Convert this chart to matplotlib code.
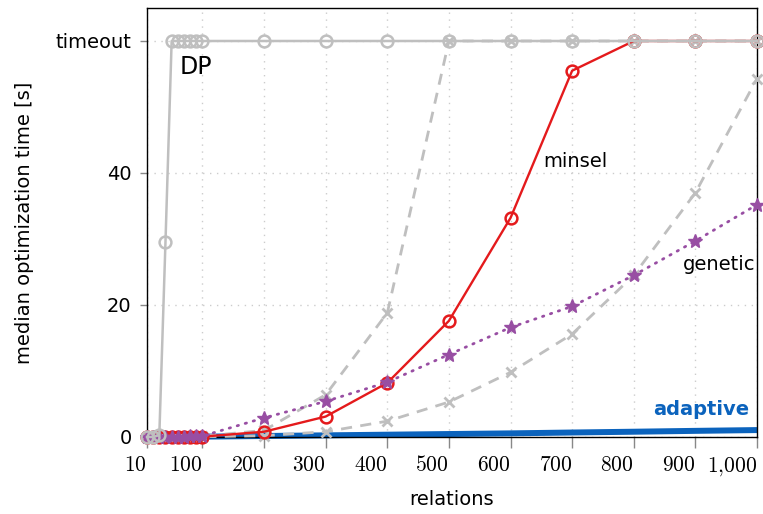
import matplotlib
matplotlib.use("Agg")
import matplotlib.pyplot as plt

plt.rcParams['font.family'] = ['DejaVu Sans']
plt.rcParams['mathtext.fontset'] = 'cm'

# data
relations = [10, 20, 30, 40, 50, 60, 70, 80, 90, 100,
             200, 300, 400, 500, 600, 700, 800, 900, 1000]
TIMEOUT = 60
dp = [0.0, 0.0, 0.3, 29.6, 60, 60, 60, 60, 60, 60,
      60, 60, 60, 60, 60, 60, 60, 60, 60]
minsel = [0.0, 0.0, 0.0, 0.0, 0.0, 0.0, 0.01, 0.02, 0.03, 0.05,
          0.8, 3.1, 8.2, 17.6, 33.2, 55.5, 60, 60, 60]
genetic = [0.0, 0.0, 0.01, 0.02, 0.03, 0.05, 0.07, 0.1, 0.12, 0.15,
           2.9, 5.4, 8.3, 12.5, 16.6, 19.8, 24.5, 29.7, 35.2]
gray_fast = [0.0, 0.0, 0.0, 0.01, 0.02, 0.03, 0.05, 0.07, 0.1, 0.12,
             1.0, 6.4, 18.8, 60, 60, 60, 60, 60, 60]
gray_slow = [0.0, 0.0, 0.0, 0.0, 0.0, 0.01, 0.01, 0.02, 0.03, 0.04,
             0.2, 0.8, 2.4, 5.3, 9.8, 15.6, 24.5, 37.0, 54.3]
adaptive = [0.0, 0.0, 0.01, 0.01, 0.02, 0.02, 0.03, 0.03, 0.04, 0.05,
            0.15, 0.25, 0.35, 0.45, 0.55, 0.68, 0.8, 0.93, 1.05]

xticks = [10, 100, 200, 300, 400, 500, 600, 700, 800, 900, 1000]
xticklabels = [r'$10$', r'$100$', r'$200$', r'$300$', r'$400$', r'$500$',
               r'$600$', r'$700$', r'$800$', r'$900$', r'$1{,}000$']
yticks = [0, 20, 40, TIMEOUT]
yticklabels = ['0', '20', '40', 'timeout']

gray = '#bfbfbf'
red = '#e41a1c'
purple = '#984ea3'
blue = '#0b63bd'

fig = plt.figure(figsize=(7.63, 5.14), dpi=100)
ax = fig.add_axes([147/763, 1-437/514, (757-147)/763, (437-8)/514])

ax.plot(relations, adaptive, color=blue, lw=4.3, solid_capstyle='butt',
        zorder=2, clip_on=False)
ax.plot(relations, gray_slow, color=gray, lw=2, ls=(0, (4, 3)), marker='x',
        ms=7, mew=2, zorder=3, clip_on=False)
ax.plot(relations, gray_fast, color=gray, lw=2, ls=(0, (4, 3)), marker='x',
        ms=7, mew=2, zorder=3, clip_on=False)
ax.plot(relations, minsel, color=red, lw=1.7, marker='o', ms=8.5, mfc='none',
        mew=1.8, zorder=4, clip_on=False)
ax.plot(relations, genetic, color=purple, lw=2, ls=(0, (0.5, 2.5)),
        dash_capstyle='round', marker='*', ms=10, zorder=5, clip_on=False)
ax.plot(relations, dp, color=gray, lw=1.8, marker='o', ms=8.5, mfc='none',
        mew=1.8, zorder=6, clip_on=False)

ax.text(63, 56.0, 'DP', fontsize=17, ha='left', va='center')
ax.text(706, 41.8, 'minsel', fontsize=14, ha='center', va='center')
ax.text(997, 26.1, 'genetic', fontsize=14, ha='right', va='center')
ax.text(987, 4.1, 'adaptive', fontsize=14, ha='right', va='center',
        color=blue, fontweight='bold')

ax.set_xlim(10, 1000)
ax.set_ylim(0, 65)
ax.set_xticks(xticks)
ax.set_xticklabels(xticklabels, fontsize=15.5, ha='right')
ax.set_yticks(yticks)
ax.set_yticklabels(yticklabels, fontsize=14)
ax.tick_params(axis='x', direction='out', length=8, width=1, color='#888888', pad=5)
ax.tick_params(axis='y', direction='out', length=5, width=1, color='#888888', pad=6)

ax.grid(True, color='#cccccc', ls=(0, (1, 4)), lw=1)
ax.set_axisbelow(True)
for s in ax.spines.values():
    s.set_color('black')
    s.set_linewidth(1)

ax.set_xlabel('relations', fontsize=14, labelpad=9)
ax.set_ylabel('median optimization time [s]', fontsize=14, labelpad=16)

fig.savefig('out.png', dpi=100)
